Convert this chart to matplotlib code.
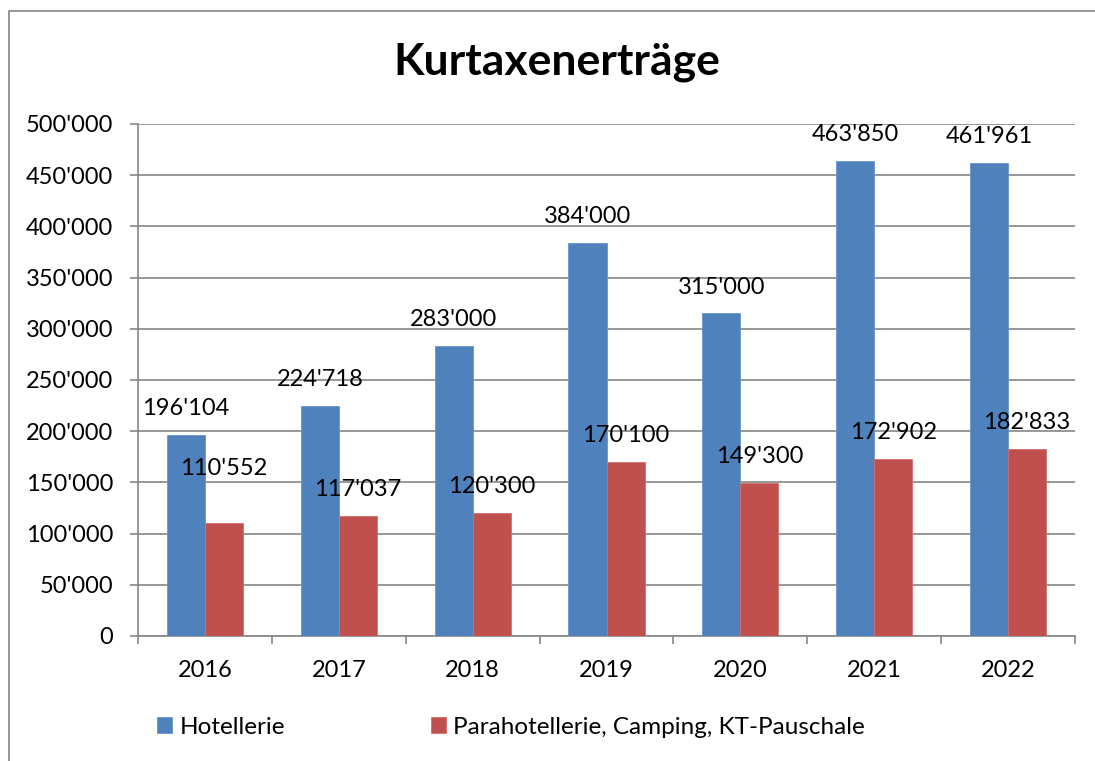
import matplotlib.pyplot as plt
import numpy as np
from matplotlib.patches import Rectangle
from matplotlib.ticker import FuncFormatter

years = ['2016', '2017', '2018', '2019', '2020', '2021', '2022']
hotellerie = [196104, 224718, 283000, 384000, 315000, 463850, 461961]
parahotellerie = [110552, 117037, 120300, 170100, 149300, 172902, 182833]

plt.rcParams['font.family'] = ['Lato', 'DejaVu Sans']

def swiss(v, pos=None):
    return f'{int(v):,}'.replace(',', "'")

fig = plt.figure(figsize=(10.95, 7.61), dpi=100)
ax = fig.add_axes([138 / 1095, 1 - 636 / 761, (1075 - 138) / 1095, (636 - 124) / 761])

# outer chart border (Excel style)
fig.patches.append(Rectangle((9 / 1095, -0.1), 1.2, 1 - 11 / 761 + 0.1, transform=fig.transFigure,
                             fill=False, edgecolor='#868686', linewidth=1.2))

x = np.arange(len(years))
w = 0.284
b1 = ax.bar(x - w / 2, hotellerie, w, color='#4F81BD', edgecolor='#6a96cc', linewidth=0.6,
            label='Hotellerie', zorder=3)
b2 = ax.bar(x + w / 2, parahotellerie, w, color='#C0504D', edgecolor='#d07070', linewidth=0.6,
            label='Parahotellerie, Camping, KT-Pauschale', zorder=3)

fs = 17
for xi, v in zip(x, hotellerie):
    ax.annotate(swiss(v), (xi - w / 2, v), xytext=(0, 19), textcoords='offset points',
                ha='center', va='center', fontsize=fs)
for i, (xi, v) in enumerate(zip(x, parahotellerie)):
    off = 39 if i == 0 else 19
    ax.annotate(swiss(v), (xi + w / 2, v), xytext=(0, off), textcoords='offset points',
                ha='center', va='center', fontsize=fs)

ax.set_xlim(-0.5, len(years) - 0.5)
ax.set_ylim(0, 500000)
ax.set_yticks(np.arange(0, 500001, 50000))
ax.yaxis.set_major_formatter(FuncFormatter(swiss))
ax.set_xticks(x)
ax.set_xticklabels(years)
ax.set_xticks(np.arange(-0.5, len(years)), minor=True)
ax.tick_params(axis='x', which='major', length=0, pad=17, labelsize=fs)
ax.tick_params(axis='x', which='minor', length=6, color='#868686', width=1.2)
ax.tick_params(axis='y', length=6, color='#868686', width=1.2, labelsize=fs, pad=12)

ax.grid(axis='y', color='#868686', linewidth=1.2, zorder=0)
for s in ['top', 'right']:
    ax.spines[s].set_visible(False)
for s in ['left', 'bottom']:
    ax.spines[s].set_color('#868686')
    ax.spines[s].set_linewidth(1.2)

fig.text(557 / 1095, 1 - 62 / 761, 'Kurtaxenerträge', ha='center', va='center',
         fontsize=32, fontweight='bold')

fig.legend(handles=[b1, b2], loc='center', bbox_to_anchor=(511 / 1095, 1 - 727 / 761),
           ncol=2, frameon=False, fontsize=17.5, handlelength=0.62, handleheight=0.62,
           handletextpad=0.3, columnspacing=6.0)

fig.savefig('out.png', dpi=100)
